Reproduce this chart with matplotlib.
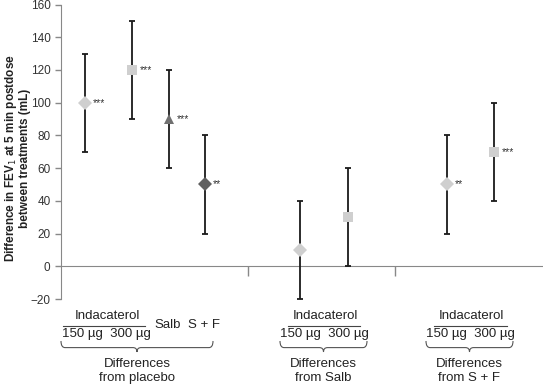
import matplotlib
matplotlib.use("Agg")
import matplotlib.pyplot as plt
from matplotlib.path import Path
from matplotlib.patches import PathPatch

plt.rcParams['font.family'] = ['Liberation Sans', 'DejaVu Sans']

# data
comparisons = ['Ind 150 vs placebo', 'Ind 300 vs placebo', 'Salb vs placebo', 'S+F vs placebo',
               'Ind 150 vs Salb', 'Ind 300 vs Salb', 'Ind 150 vs S+F', 'Ind 300 vs S+F']
means = [100, 120, 90, 50, 10, 30, 50, 70]
lower = [70, 90, 60, 20, -20, 0, 20, 40]
upper = [130, 150, 120, 80, 40, 60, 80, 100]
stars = ['***', '***', '***', '**', '', '', '**', '***']

# layout
x_pos = [24, 71, 108, 144, 239, 287, 386, 433]
markers = ['D', 's', '^', 'D', 'D', 's', 'D', 's']
colors = ['#cfcfcf', '#cfcfcf', '#707070', '#606060', '#cfcfcf', '#cfcfcf', '#cfcfcf', '#cfcfcf']
msizes = [7, 7, 7.5, 7, 7, 7, 7, 7]

fig = plt.figure(figsize=(5.43, 3.86), dpi=100)
ax = fig.add_axes([61 / 543, 87 / 386, 482 / 543, 294.5 / 386])

for i in range(len(means)):
    ax.errorbar(x_pos[i], means[i],
                yerr=[[means[i] - lower[i]], [upper[i] - means[i]]],
                fmt='none', ecolor='#1a1a1a', elinewidth=1.3, capsize=2.5, capthick=1.3, zorder=2)
    ax.plot(x_pos[i], means[i], marker=markers[i], color=colors[i], markersize=msizes[i],
            markeredgewidth=0, zorder=3)
    if stars[i]:
        ax.text(x_pos[i] + 8, means[i], stars[i], fontsize=7.5, color='#333333',
                ha='left', va='center')

ax.set_xlim(0, 482)
ax.set_ylim(-20, 160)
ax.set_yticks(range(-20, 161, 20))
ax.set_yticklabels(['\u221220'] + [str(v) for v in range(0, 161, 20)])
ax.tick_params(axis='y', labelsize=8.5, colors='#333333', color='#888888', length=4, width=1)
ax.set_xticks([187, 334])
ax.set_xticklabels([])
ax.tick_params(axis='x', direction='out', length=7, color='#888888', width=1)
for s in ['top', 'right']:
    ax.spines[s].set_visible(False)
ax.spines['left'].set_color('#888888')
ax.spines['bottom'].set_color('#888888')
ax.spines['bottom'].set_position(('data', 0))
ax.spines['bottom'].set_zorder(1)

fig.text(17 / 543, 0.59, 'Difference in FEV$_1$ at 5 min postdose\nbetween treatments (mL)',
         rotation=90, ha='center', va='center', fontsize=8.5, fontweight='bold',
         color='#222222', linespacing=1.1, transform=fig.transFigure)

# labels under the axis, in pixel coordinates of the figure
W, H = 543, 386


def fx(px):
    return px / W


def fy(py):
    return 1 - py / H


def brace(x0, x1, ytop, depth):
    xm = (x0 + x1) / 2
    yb = ytop + depth * 0.6
    verts = [(x0, ytop), (x0, yb), (x0 + 4, yb), (xm - 4, yb), (xm, yb), (xm, ytop + depth),
             (xm, yb), (xm + 4, yb), (x1 - 4, yb), (x1, yb), (x1, ytop)]
    verts = [(fx(a), fy(b)) for a, b in verts]
    codes = [Path.MOVETO, Path.CURVE3, Path.CURVE3, Path.LINETO, Path.CURVE3, Path.CURVE3,
             Path.CURVE3, Path.CURVE3, Path.LINETO, Path.CURVE3, Path.CURVE3]
    fig.patches.append(PathPatch(Path(verts, codes), facecolor='none', edgecolor='#555555',
                                 lw=0.8, transform=fig.transFigure))


def group(cx, lx0, lx1, bx0, bx1, title):
    fig.text(fx(cx), fy(316), 'Indacaterol', ha='center', va='center', fontsize=9.5, color='#222222')
    fig.lines.append(plt.Line2D([fx(lx0), fx(lx1)], [fy(325.5), fy(325.5)], color='#444444',
                                lw=0.8, transform=fig.transFigure))
    fig.text(fx(cx - 1), fy(334), '150 \u00b5g  300 \u00b5g', ha='center', va='center',
             fontsize=9.5, color='#222222')
    brace(bx0, bx1, 341, 11)
    fig.text(fx((bx0 + bx1) / 2), fy(371), title, ha='center', va='center', fontsize=9.5,
             color='#222222', linespacing=1.2)


group(107, 63, 145, 61, 213, 'Differences\nfrom placebo')
group(325, 288, 360, 280, 367, 'Differences\nfrom Salb')
group(471, 434, 507, 426, 513, 'Differences\nfrom S + F')
fig.text(fx(168), fy(325), 'Salb', ha='center', va='center', fontsize=9.5, color='#222222')
fig.text(fx(204), fy(325), 'S + F', ha='center', va='center', fontsize=9.5, color='#222222')

fig.savefig('out.png', dpi=100)
